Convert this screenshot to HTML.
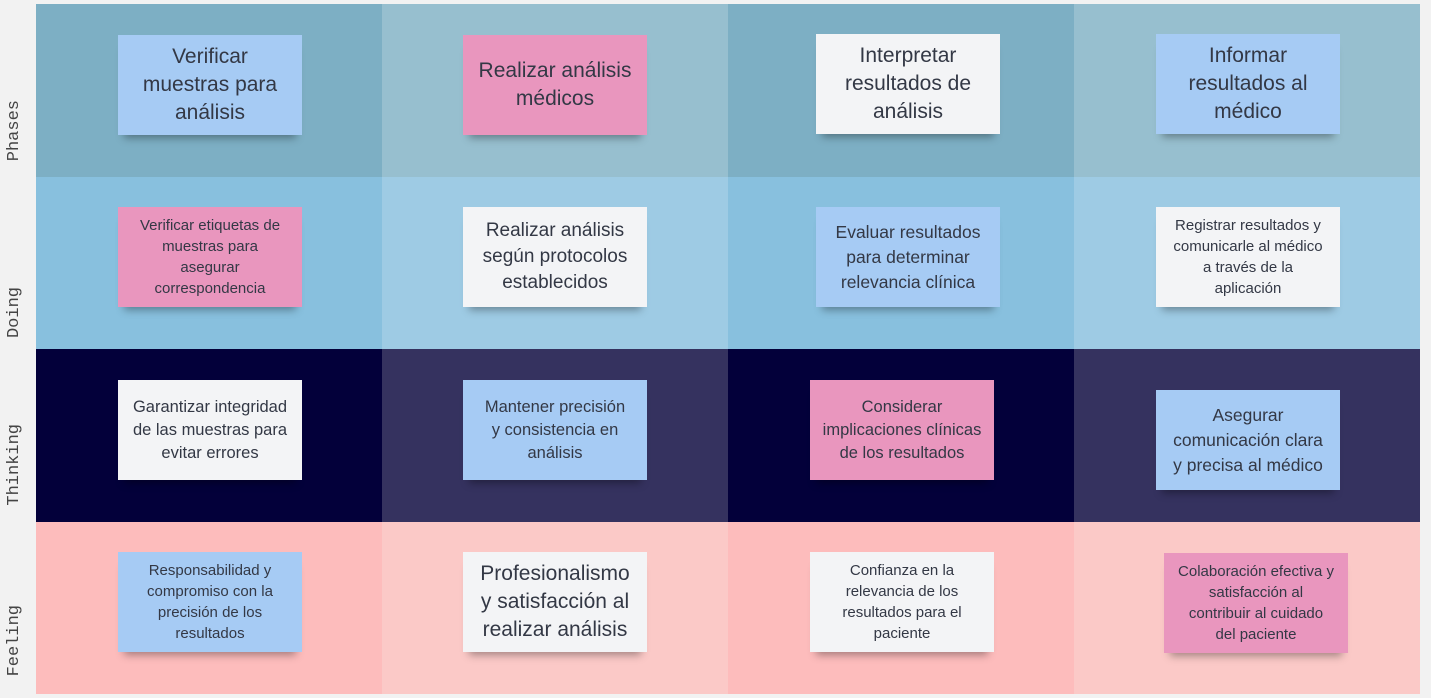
<!DOCTYPE html>
<html><head><meta charset="utf-8"><style>
body{margin:0;width:1431px;height:698px;background:#f2f2f2;position:relative;overflow:hidden;font-family:"Liberation Sans","DejaVu Sans",sans-serif;}
.c{position:absolute;}
.s{position:absolute;width:184px;height:100px;display:flex;align-items:center;justify-content:center;text-align:center;color:#333845;box-shadow:0 9px 8px -6px rgba(0,0,0,0.35);box-sizing:border-box;padding:0 4px;white-space:nowrap;}
.b{background:#a6cbf4}.p{background:#e996be}.w{background:#f3f4f6}
.L{font-size:21px;line-height:28px}.M{font-size:17.5px;line-height:25px}.S{font-size:15px;line-height:21px}
.lab{position:absolute;left:5px;width:22px;font-family:"Liberation Mono",monospace;font-size:17px;color:#444;writing-mode:vertical-rl;transform:rotate(180deg);}
</style></head><body>
<div class="c" style="left:36px;top:4px;width:346px;height:173px;background:#7dafc4"></div>
<div class="c" style="left:382px;top:4px;width:346px;height:173px;background:#97bfcf"></div>
<div class="c" style="left:728px;top:4px;width:346px;height:173px;background:#7dafc4"></div>
<div class="c" style="left:1074px;top:4px;width:346px;height:173px;background:#97bfcf"></div>
<div class="c" style="left:36px;top:177px;width:346px;height:172px;background:#88c0de"></div>
<div class="c" style="left:382px;top:177px;width:346px;height:172px;background:#9ecbe4"></div>
<div class="c" style="left:728px;top:177px;width:346px;height:172px;background:#88c0de"></div>
<div class="c" style="left:1074px;top:177px;width:346px;height:172px;background:#9ecbe4"></div>
<div class="c" style="left:36px;top:349px;width:346px;height:173px;background:#03003a"></div>
<div class="c" style="left:382px;top:349px;width:346px;height:173px;background:#35325f"></div>
<div class="c" style="left:728px;top:349px;width:346px;height:173px;background:#03003a"></div>
<div class="c" style="left:1074px;top:349px;width:346px;height:173px;background:#35325f"></div>
<div class="c" style="left:36px;top:522px;width:346px;height:172px;background:#fdbcbc"></div>
<div class="c" style="left:382px;top:522px;width:346px;height:172px;background:#fbc9c7"></div>
<div class="c" style="left:728px;top:522px;width:346px;height:172px;background:#fdbcbc"></div>
<div class="c" style="left:1074px;top:522px;width:346px;height:172px;background:#fbc9c7"></div>

<div class="lab" style="top:100px">Phases</div>
<div class="lab" style="top:287px">Doing</div>
<div class="lab" style="top:424px">Thinking</div>
<div class="lab" style="top:605px">Feeling</div>

<div class="s b L" style="left:118px;top:35px">Verificar<br>muestras para<br>análisis</div>
<div class="s p L" style="left:463px;top:35px">Realizar análisis<br>médicos</div>
<div class="s w L" style="left:816px;top:34px">Interpretar<br>resultados de<br>análisis</div>
<div class="s b L" style="left:1156px;top:34px">Informar<br>resultados al<br>médico</div>

<div class="s p S" style="left:118px;top:207px">Verificar etiquetas de<br>muestras para<br>asegurar<br>correspondencia</div>
<div class="s w M" style="left:463px;top:207px;font-size:19px;line-height:26px">Realizar análisis<br>según protocolos<br>establecidos</div>
<div class="s b M" style="left:816px;top:207px">Evaluar resultados<br>para determinar<br>relevancia clínica</div>
<div class="s w S" style="left:1156px;top:207px">Registrar resultados y<br>comunicarle al médico<br>a través de la<br>aplicación</div>

<div class="s w M" style="left:118px;top:380px;font-size:16.5px;line-height:23px">Garantizar integridad<br>de las muestras para<br>evitar errores</div>
<div class="s b M" style="left:463px;top:380px;font-size:16.5px;line-height:23px">Mantener precisión<br>y consistencia en<br>análisis</div>
<div class="s p M" style="left:810px;top:380px;font-size:16.5px;line-height:23px">Considerar<br>implicaciones clínicas<br>de los resultados</div>
<div class="s b M" style="left:1156px;top:390px">Asegurar<br>comunicación clara<br>y precisa al médico</div>

<div class="s b S" style="left:118px;top:552px">Responsabilidad y<br>compromiso con la<br>precisión de los<br>resultados</div>
<div class="s w L" style="left:463px;top:552px">Profesionalismo<br>y satisfacción al<br>realizar análisis</div>
<div class="s w S" style="left:810px;top:552px">Confianza en la<br>relevancia de los<br>resultados para el<br>paciente</div>
<div class="s p S" style="left:1164px;top:553px">Colaboración efectiva y<br>satisfacción al<br>contribuir al cuidado<br>del paciente</div>
</body></html>
